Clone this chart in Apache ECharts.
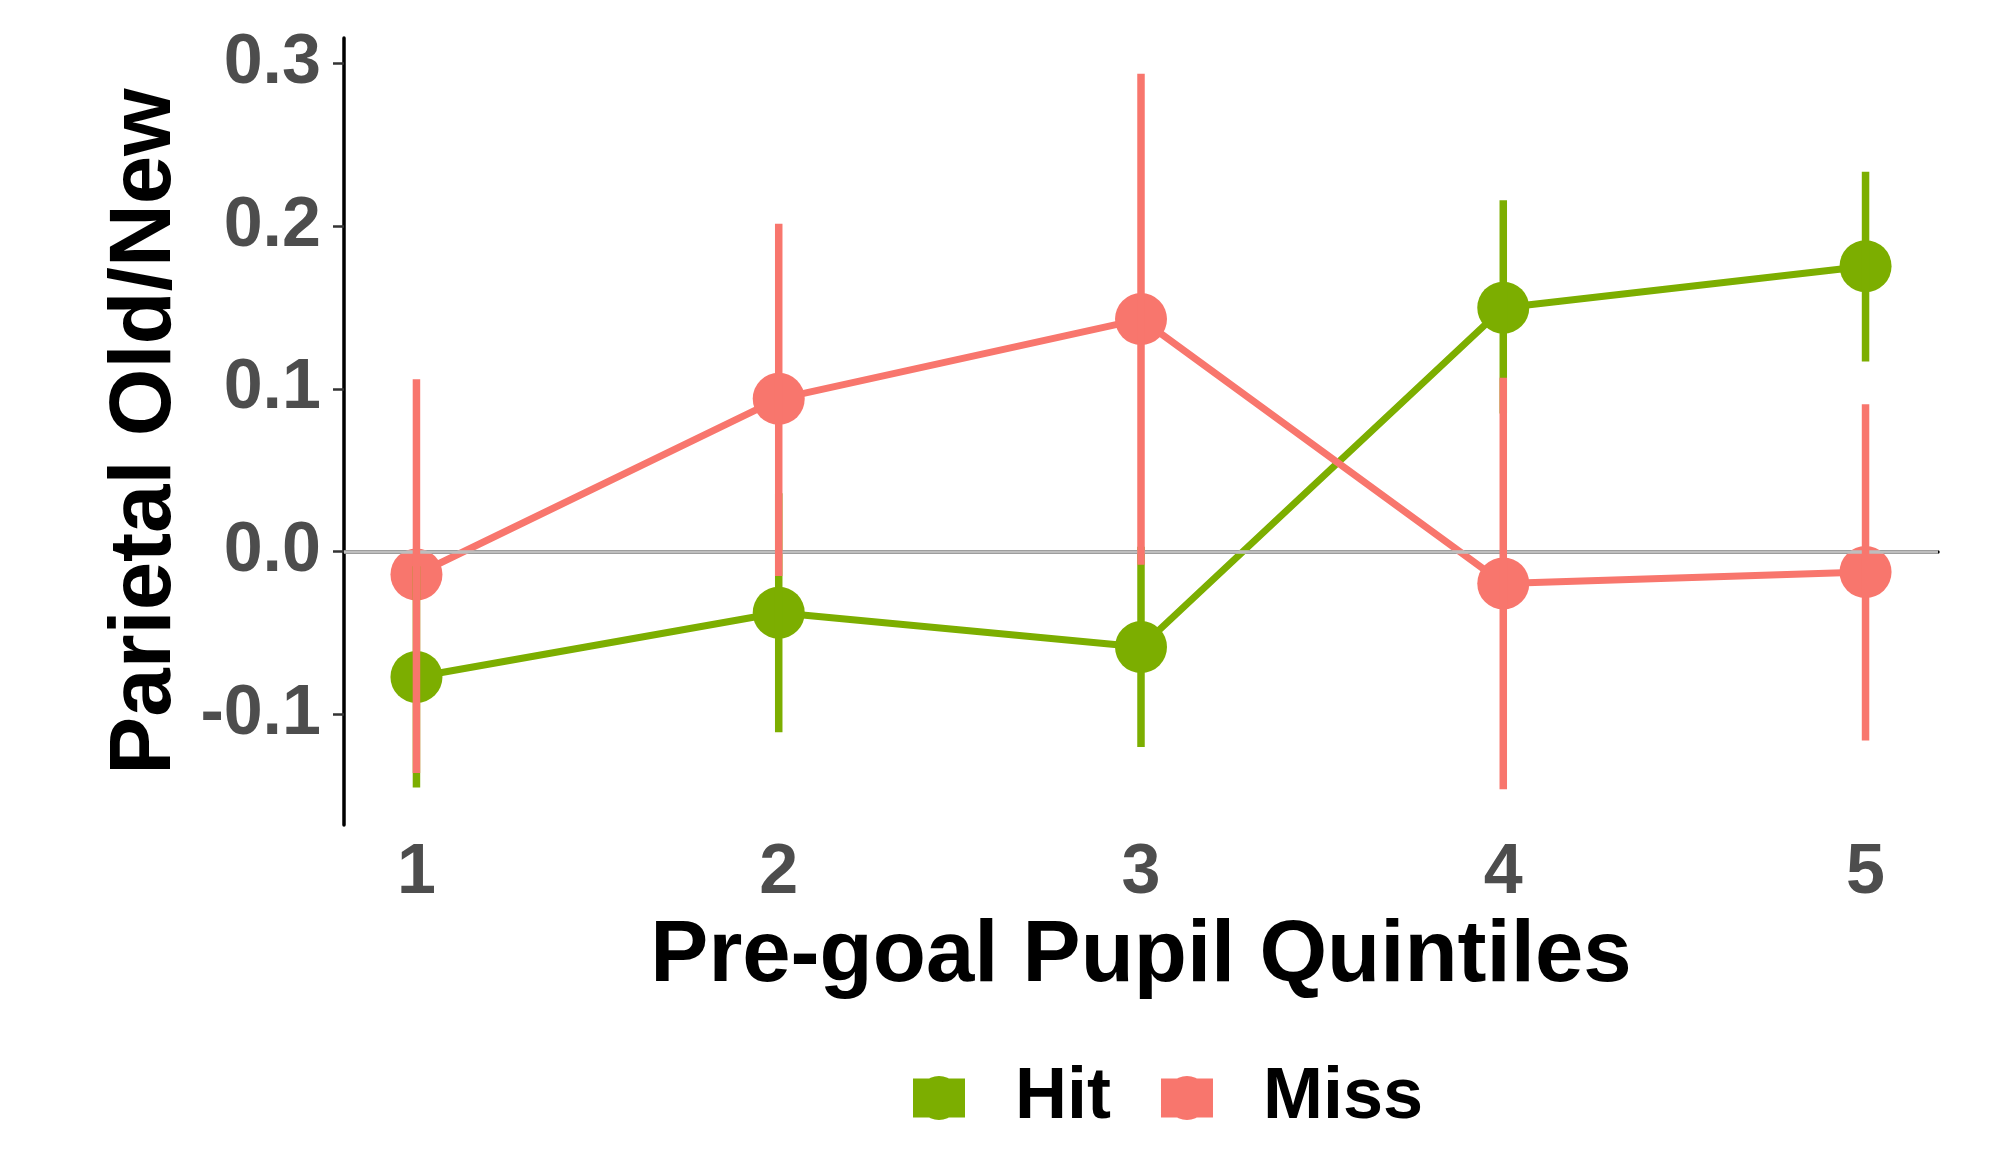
<!DOCTYPE html>
<html>
<head>
<meta charset="utf-8">
<script src="https://cdn.jsdelivr.net/npm/echarts@6/dist/echarts.min.js"></script>
<style>
  html, body { margin: 0; padding: 0; background: #ffffff; }
  #chart { width: 1990px; height: 1149px; }
</style>
</head>
<body>
<div id="chart"></div>
<script>
// Quintiles of pre-goal pupil size
const quintiles = [1, 2, 3, 4, 5];

// Hit trials: mean parietal old/new effect with error bar limits
const hitMean  = [-0.077, -0.0375, -0.0586, 0.150, 0.1755];
const hitLower = [-0.145, -0.111, -0.120, 0.085, 0.117];
const hitUpper = [-0.009, 0.036, 0.003, 0.216, 0.2336];

// Miss trials: mean parietal old/new effect with error bar limits
const missMean  = [-0.014, 0.094, 0.143, -0.0195, -0.0125];
const missLower = [-0.136, -0.015, -0.008, -0.146, -0.116];
const missUpper = [0.106, 0.2016, 0.2938, 0.107, 0.0906];

// Axis tick labels
const xTicks = [1, 2, 3, 4, 5];
const yTicks = [-0.1, 0.0, 0.1, 0.2, 0.3];

const HIT_COLOR = '#7CAE00';
const MISS_COLOR = '#F8766D';
const FONT = '"Liberation Sans", Arial, Helvetica, sans-serif';

// y range: data extent of the error bars plus 5% padding on each side
const allLo = Math.min(...hitLower, ...missLower);
const allHi = Math.max(...hitUpper, ...missUpper);
const pad = (allHi - allLo) * 0.05;
const yMin = allLo - pad;
const yMax = allHi + pad;

const pairs = (xs, ys) => xs.map((x, i) => [x, ys[i]]);
const bars = (xs, lo, hi) => xs.map((x, i) => [x, lo[i], hi[i]]);

function errorBar(color) {
  return function (params, api) {
    const x = api.value(0);
    const p1 = api.coord([x, api.value(1)]);
    const p2 = api.coord([x, api.value(2)]);
    return {
      type: 'line',
      shape: { x1: p1[0], y1: p1[1], x2: p2[0], y2: p2[1] },
      style: { stroke: color, lineWidth: 7.5, lineCap: 'butt' }
    };
  };
}

// legend key: filled square with the point symbol behind it
const keyIcon = 'path://M0,2.5H52V41.5H0Z M4,22a22,22 0 1,1 44,0a22,22 0 1,1 -44,0Z';

const chart = echarts.init(document.getElementById('chart'), null, { renderer: 'canvas' });

chart.setOption({
  backgroundColor: '#ffffff',
  animation: false,
  textStyle: { fontFamily: FONT },
  grid: { left: 344, right: 52, top: 38, bottom: 324 },
  legend: {
    left: 908,
    top: 1057,
    orient: 'horizontal',
    itemWidth: 52,
    itemHeight: 44,
    itemGap: 50,
    selectedMode: false,
    data: [
      { name: 'Hit', icon: keyIcon, itemStyle: { color: HIT_COLOR } },
      { name: 'Miss', icon: keyIcon, itemStyle: { color: MISS_COLOR } }
    ],
    textStyle: {
      fontFamily: FONT, fontWeight: 'bold', fontSize: 72, color: '#000000',
      padding: [0, 0, 0, 45]
    }
  },
  xAxis: {
    type: 'value',
    min: 0.8,
    max: 5.2,
    name: 'Pre-goal Pupil Quintiles',
    nameLocation: 'middle',
    nameGap: 89,
    nameTextStyle: { fontFamily: FONT, fontWeight: 'bold', fontSize: 87, color: '#000000' },
    axisLine: { lineStyle: { color: '#000000', width: 3.5 } },
    axisTick: { customValues: xTicks, length: 11, lineStyle: { color: '#333333', width: 2.5 } },
    axisLabel: {
      customValues: xTicks,
      margin: 14,
      fontFamily: FONT, fontWeight: 'bold', fontSize: 70, color: '#4D4D4D'
    },
    splitLine: { show: false }
  },
  yAxis: {
    type: 'value',
    min: yMin,
    max: yMax,
    name: 'Parietal Old/New',
    nameLocation: 'middle',
    nameGap: 151,
    nameTextStyle: { fontFamily: FONT, fontWeight: 'bold', fontSize: 87, color: '#000000' },
    axisLine: { lineStyle: { color: '#000000', width: 3.5 } },
    axisTick: { customValues: yTicks, length: 11, lineStyle: { color: '#333333', width: 2.5 } },
    axisLabel: {
      customValues: yTicks,
      margin: 23,
      formatter: v => v.toFixed(1),
      fontFamily: FONT, fontWeight: 'bold', fontSize: 70, color: '#4D4D4D'
    },
    splitLine: { show: false }
  },
  series: [
    {
      name: 'Hit', type: 'line', z: 2, showSymbol: false, silent: true,
      data: pairs(quintiles, hitMean),
      lineStyle: { color: HIT_COLOR, width: 7 }, itemStyle: { color: HIT_COLOR }
    },
    {
      name: 'Miss', type: 'line', z: 2, showSymbol: false, silent: true,
      data: pairs(quintiles, missMean),
      lineStyle: { color: MISS_COLOR, width: 7 }, itemStyle: { color: MISS_COLOR }
    },
    {
      name: 'Hit', type: 'scatter', z: 3, symbol: 'circle', symbolSize: 52,
      data: pairs(quintiles, hitMean), itemStyle: { color: HIT_COLOR, opacity: 1 }
    },
    {
      name: 'Miss', type: 'scatter', z: 3, symbol: 'circle', symbolSize: 52,
      data: pairs(quintiles, missMean), itemStyle: { color: MISS_COLOR, opacity: 1 }
    },
    {
      name: 'Hit', type: 'custom', z: 4, silent: true,
      renderItem: errorBar(HIT_COLOR),
      encode: { x: 0, y: [1, 2] },
      data: bars(quintiles, hitLower, hitUpper),
      itemStyle: { color: HIT_COLOR }
    },
    {
      name: 'Miss', type: 'custom', z: 5, silent: true,
      renderItem: errorBar(MISS_COLOR),
      encode: { x: 0, y: [1, 2] },
      data: bars(quintiles, missLower, missUpper),
      itemStyle: { color: MISS_COLOR }
    },
    {
      // horizontal reference line at zero
      name: 'zero', type: 'line', z: 10, data: [], silent: true,
      markLine: {
        silent: true, symbol: 'none', label: { show: false },
        lineStyle: { color: '#BEBEBE', width: 3.5, type: 'solid' },
        data: [{ yAxis: 0 }]
      }
    }
  ]
});
</script>
</body>
</html>
